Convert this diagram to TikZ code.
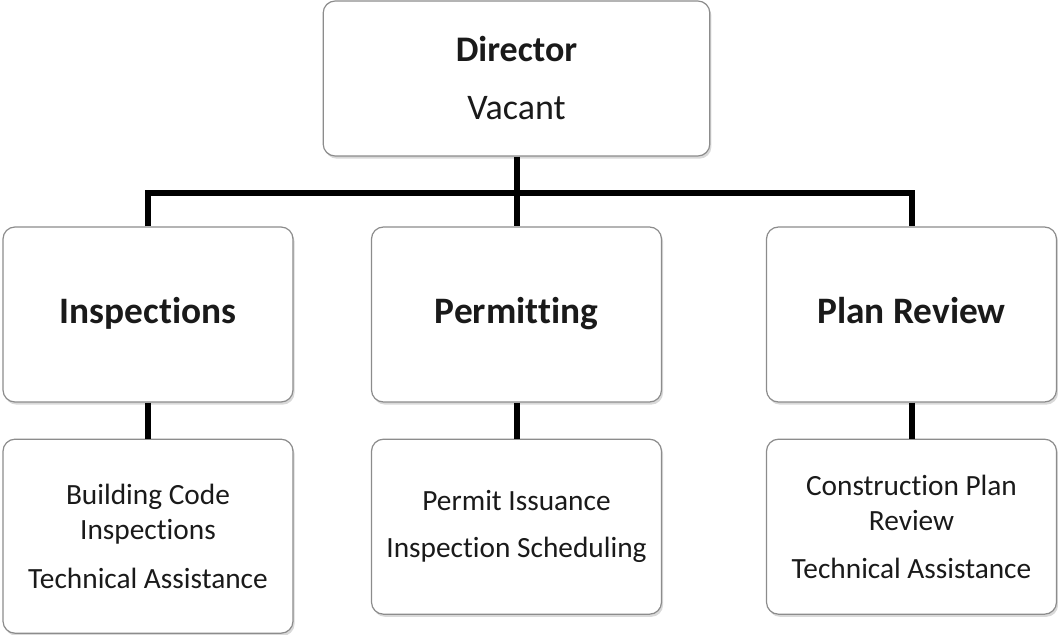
\documentclass[tikz,border=0pt]{standalone}
\usepackage{fontspec}
\setmainfont{Carlito}[Ligatures=NoCommon]
\usetikzlibrary{positioning,shadows}
\definecolor{boxline}{HTML}{8C8C8C}
\definecolor{inktext}{HTML}{1A1A1A}

\begin{document}
\begin{tikzpicture}[
    x=0.75pt, y=-0.75pt,
    node distance=27pt,
    every node/.style={text=inktext, align=center},
    card/.style={
      draw=boxline, line width=0.9pt, fill=white,
      rounded corners=9pt, inner sep=0pt,
      drop shadow={opacity=0.3, shadow xshift=1.2pt, shadow yshift=-2pt}
    },
    head/.style={card, minimum width=217.5pt, minimum height=131.25pt,
      text height=20pt, text depth=6pt,
      font=\fontsize{28}{34}\selectfont\bfseries},
    duty/.style={card, minimum width=217.5pt, minimum height=131.25pt,
      font=\fontsize{22}{26.25}\selectfont},
    link/.style={line width=4.5pt, black}
  ]
  \useasboundingbox (0,0) rectangle (1058,635);

  % top of the chart
  \node[card, minimum width=290pt, minimum height=116.25pt,
    font=\fontsize{27}{33}\selectfont] (dir) at (516.5,78.5) {
    \textbf{Director}\\[10.5pt]
    Vacant
  };

  % the three sections
  \node[head] (insp) at (148,314.5) {Inspections};
  \node[head] (perm) at (516.5,314.5) {Permitting};
  \node[head] (plan) at (911.5,314.5) {Plan Review};

  % what each section does
  \node[duty, minimum height=145.5pt, below=of insp] (inspsub) {
    Building Code\\
    Inspections\\[10.5pt]
    Technical Assistance
  };
  \node[duty, below=of perm] (permsub) {
    Permit Issuance\\[9pt]
    Inspection Scheduling
  };
  \node[duty, below=of plan] (plansub) {
    Construction Plan\\
    Review\\[10pt]
    Technical Assistance
  };

  % connectors
  \coordinate (bus) at (516.5,193);
  \draw[link] (dir.south) -- (perm.north);
  \draw[link] (insp.north) |- (bus) -| (plan.north);
  \foreach \u in {insp,perm,plan}
    \draw[link] (\u.south) -- (\u sub.north);
\end{tikzpicture}
\end{document}
